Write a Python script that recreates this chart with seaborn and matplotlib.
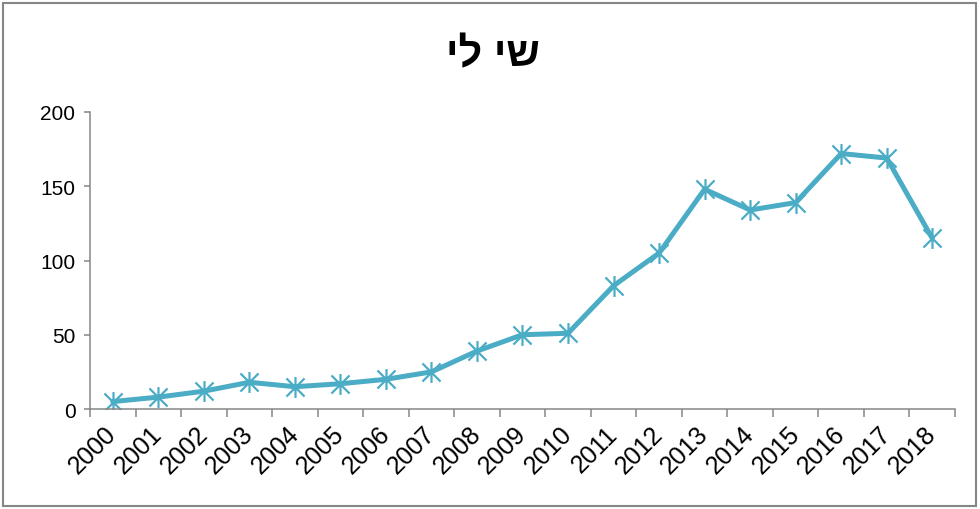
import numpy as np
import matplotlib
matplotlib.use('Agg')
import matplotlib.pyplot as plt
from matplotlib.path import Path
from matplotlib.patches import Rectangle
import seaborn as sns

# data
years = list(range(2000, 2019))
counts = [5, 8, 12, 18, 15, 17, 20, 25, 39, 50, 51, 83, 105, 148, 134, 139, 172, 169, 115]
year_labels = [str(y) for y in years]
title = 'שי לי'

LINE_COLOR = '#4BACC6'
AXIS_COLOR = '#868686'

sns.set_style('white')
plt.rcParams['font.family'] = ['Liberation Sans', 'DejaVu Sans']
plt.rcParams['text.color'] = 'black'
plt.rcParams['xtick.color'] = 'black'
plt.rcParams['ytick.color'] = 'black'

# Excel-style star marker: an X plus a vertical stroke
star = Path(
    [(-1, -1), (1, 1), (-1, 1), (1, -1), (0, -1.15), (0, 1.15)],
    [Path.MOVETO, Path.LINETO, Path.MOVETO, Path.LINETO, Path.MOVETO, Path.LINETO],
)

fig = plt.figure(figsize=(9.8, 5.1), dpi=100)
ax = fig.add_axes([90 / 980, 1 - 410 / 510, 865 / 980, 297 / 510])

sns.lineplot(x=years, y=counts, ax=ax, color=LINE_COLOR, linewidth=3.6,
             marker=star, markersize=15, markeredgewidth=1.6,
             markeredgecolor=LINE_COLOR, markerfacecolor='none')

ax.set_xlim(1999.5, 2018.5)
ax.set_ylim(0, 200)
ax.set_yticks([0, 50, 100, 150, 200])
ax.tick_params(axis='y', direction='out', length=4.5, width=1.1, color=AXIS_COLOR,
               labelcolor='black', labelsize=15, pad=6, left=True)

# category boundaries get the tick marks, labels sit between them
ax.set_xticks(np.arange(1999.5, 2019, 1))
ax.set_xticklabels([])
ax.set_xticks(years, minor=True)
ax.set_xticklabels(year_labels, minor=True, rotation=45, ha='right', va='center',
                   rotation_mode='anchor', fontsize=18)
ax.tick_params(axis='x', which='major', direction='out', length=5.5, width=1.1,
               color=AXIS_COLOR, bottom=True)
ax.tick_params(axis='x', which='minor', length=0, pad=15, labelcolor='black')

for side in ['top', 'right']:
    ax.spines[side].set_visible(False)
for side in ['left', 'bottom']:
    ax.spines[side].set_color(AXIS_COLOR)
    ax.spines[side].set_linewidth(1.1)

ax.set_xlabel('')
ax.set_ylabel('')

# matplotlib has no bidi support, so the Hebrew title is given in visual order
fig.text(493 / 980, 1 - 55 / 510, title[::-1], ha='center', va='center',
         fontsize=30, fontweight='bold', color='black')

fig.add_artist(Rectangle((3 / 980, 3 / 510), 973 / 980, 503 / 510,
                         transform=fig.transFigure, fill=False,
                         edgecolor=AXIS_COLOR, linewidth=1.5))

fig.savefig('out.png', dpi=100)
